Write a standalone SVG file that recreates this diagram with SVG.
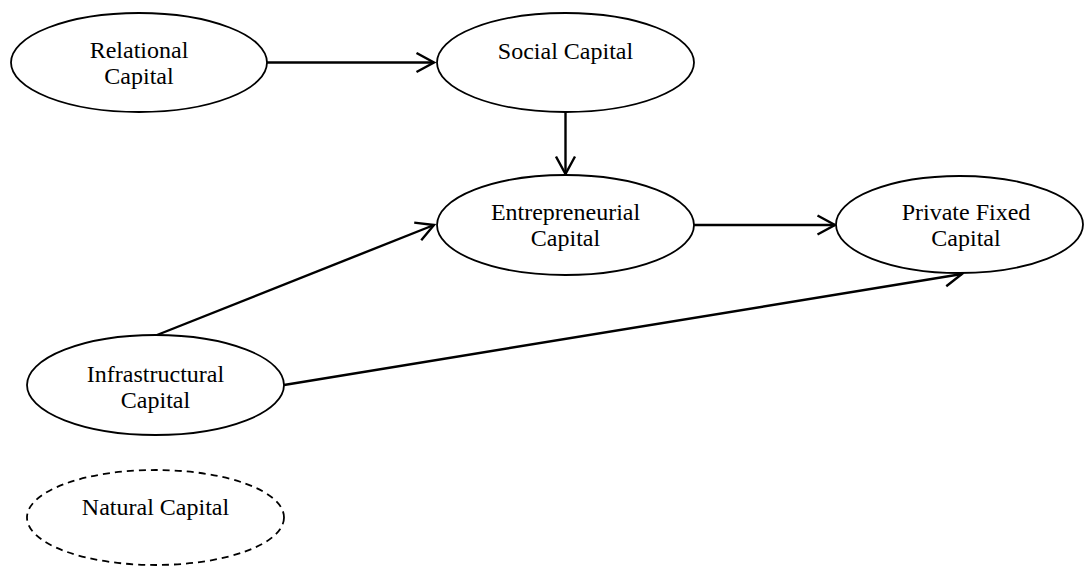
<svg xmlns="http://www.w3.org/2000/svg" width="1084" height="566" viewBox="0 0 1084 566">
<style>
.node ellipse{fill:#fff;stroke:#000;stroke-width:1.8}
.node.dashed ellipse{stroke-dasharray:7 5}
text{font-family:"Liberation Serif","Times New Roman",serif;font-size:24px;fill:#000;text-anchor:middle}
.edge{stroke:#000;stroke-width:2.4;fill:none}
</style>
<defs>
<marker id="arr" viewBox="0 0 22 22" refX="19.5" refY="11" markerWidth="22" markerHeight="22" markerUnits="userSpaceOnUse" orient="auto">
<path d="M2,1.5 L19.5,11 L2,20.5" fill="none" stroke="#000" stroke-width="2.4"/>
</marker>
</defs>
<g id="connectors">
<line class="edge" x1="267" y1="62.5" x2="434" y2="62.5" marker-end="url(#arr)"/>
<line class="edge" x1="565.5" y1="112" x2="565.5" y2="174" marker-end="url(#arr)"/>
<line class="edge" x1="694" y1="225" x2="835" y2="225" marker-end="url(#arr)"/>
<line class="edge" x1="157" y1="335" x2="434" y2="225" marker-end="url(#arr)"/>
<line class="edge" x1="284" y1="385" x2="962" y2="274" marker-end="url(#arr)"/>
</g>
<g id="relational" class="node">
<ellipse cx="139" cy="62.5" rx="128" ry="49.5"/>
<text x="139" y="58">Relational</text>
<text x="139" y="84">Capital</text>
</g>
<g id="social" class="node">
<ellipse cx="565.5" cy="62.5" rx="128.5" ry="49.5"/>
<text x="565.5" y="59">Social Capital</text>
</g>
<g id="entrepreneurial" class="node">
<ellipse cx="565.5" cy="225" rx="128.5" ry="50"/>
<text x="565.5" y="220">Entrepreneurial</text>
<text x="565.5" y="246">Capital</text>
</g>
<g id="private" class="node">
<ellipse cx="959.5" cy="224.5" rx="123.5" ry="48.5"/>
<text x="966" y="220">Private Fixed</text>
<text x="966" y="246">Capital</text>
</g>
<g id="infrastructural" class="node">
<ellipse cx="155.5" cy="385" rx="128.5" ry="50"/>
<text x="155.5" y="382">Infrastructural</text>
<text x="155.5" y="408">Capital</text>
</g>
<g id="natural" class="node dashed">
<ellipse cx="155.5" cy="517.5" rx="128.5" ry="47.5"/>
<text x="155.5" y="515">Natural Capital</text>
</g>
</svg>
